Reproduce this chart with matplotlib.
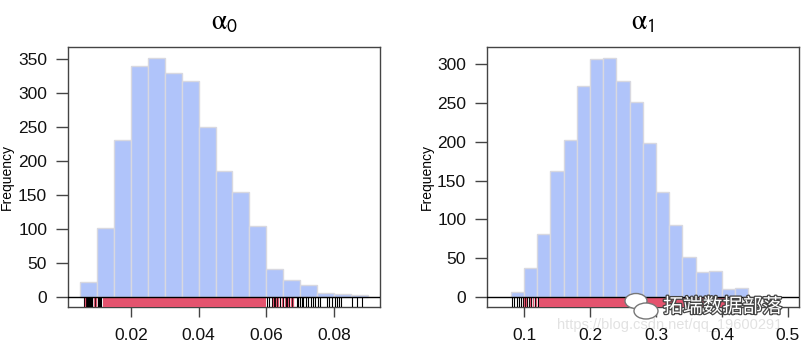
import numpy as np
import matplotlib
matplotlib.use("Agg")
import matplotlib.pyplot as plt
import matplotlib.patheffects as pe
from matplotlib.patches import Ellipse

plt.rcParams['font.family'] = ['Liberation Sans', 'DejaVu Sans']
plt.rcParams['mathtext.fontset'] = 'stix'

# ---- data ----
# alpha_0 histogram: bins of 0.005 starting at 0.005
a0_bin_start = 0.005
a0_bin_width = 0.005
a0_counts = [22, 102, 231, 340, 351, 329, 317, 250, 185, 155, 105, 41, 25, 17, 6, 4, 3]

# alpha_1 histogram: bins of 0.02 starting at 0.08
a1_bin_start = 0.08
a1_bin_width = 0.02
a1_counts = [6, 37, 81, 163, 202, 272, 307, 308, 278, 251, 199, 136, 93, 52, 32, 34, 10, 12]

# rug marks (black = individual draws in the sparse parts, red band = dense part)
a0_rug_black = [0.0061, 0.0064, 0.0067, 0.0069, 0.0072, 0.0076, 0.0079, 0.0083,
                0.0086, 0.0090, 0.0094, 0.0097, 0.0101, 0.0104, 0.0108, 0.0112,
                0.0603, 0.0609, 0.0616, 0.0619, 0.0623, 0.0625, 0.0632, 0.0640,
                0.0650, 0.0658, 0.0660, 0.0668, 0.0675, 0.0690, 0.0694, 0.0699,
                0.0704, 0.0709, 0.0717, 0.0724, 0.0731, 0.0737, 0.0744, 0.0753,
                0.0760, 0.0778, 0.0786, 0.0793, 0.0803, 0.0808, 0.0815, 0.0822,
                0.0852, 0.0869, 0.0882]
a0_rug_red = [0.0063, 0.0092, 0.0098, 0.0621, 0.0629, 0.0635, 0.0645, 0.0655,
              0.0665, 0.0672, 0.0680]
a0_red_band = (0.0116, 0.0598)

a1_rug_black = [0.0814, 0.0853, 0.0898, 0.0929, 0.0955, 0.0980, 0.1015, 0.1041,
                0.1076, 0.1106, 0.1141, 0.1167, 0.1208,
                0.398, 0.402, 0.406, 0.410, 0.417, 0.425, 0.437]
a1_rug_red = [0.100, 0.103, 0.109, 0.113, 0.118]
a1_red_band = (0.123, 0.404)

bar_color = '#b0c4fa'
red = '#e4536e'
spine_col = '#444444'

fig = plt.figure(figsize=(8.08, 3.43), dpi=100)
W, H = 808, 343


def px_rect(x0, x1, ytop, ybot):
    return [x0 / W, 1 - ybot / H, (x1 - x0) / W, (ybot - ytop) / H]


panels = [
    dict(rect=px_rect(68, 380, 47, 307), start=a0_bin_start, bw=a0_bin_width,
         counts=a0_counts, xlim=(0.00138, 0.0936), ylim=(-14.7, 367.6),
         xticks=[0.02, 0.04, 0.06, 0.08], yticks=range(0, 351, 50),
         black=a0_rug_black, red=a0_rug_red, band=a0_red_band,
         title=r'$\mathrm{\alpha}_{\mathsf{0}}$', labx=-0.173),
    dict(rect=px_rect(487, 799, 47, 307), start=a1_bin_start, bw=a1_bin_width,
         counts=a1_counts, xlim=(0.0439, 0.5167), ylim=(-12.9, 322.3),
         xticks=[0.1, 0.2, 0.3, 0.4, 0.5], yticks=range(0, 301, 50),
         black=a1_rug_black, red=a1_rug_red, band=a1_red_band,
         title=r'$\mathrm{\alpha}_{\mathsf{1}}$', labx=-0.170),
]

for p in panels:
    ax = fig.add_axes(p['rect'])
    edges = p['start'] + p['bw'] * np.arange(len(p['counts']))
    ax.bar(edges, p['counts'], width=p['bw'], align='edge', color=bar_color,
           edgecolor='#d8d8e0', linewidth=1.0, zorder=2)
    ax.set_xlim(*p['xlim'])
    ax.set_ylim(*p['ylim'])
    ylo = p['ylim'][0]
    # rug below the zero line
    ax.vlines(p['black'], ylo, 0, color='black', linewidth=0.8, zorder=3)
    ax.fill_between(list(p['band']), ylo, 0, color=red, linewidth=0, zorder=4)
    ax.vlines(p['red'], ylo, 0, color=red, linewidth=0.9, zorder=4)
    ax.axhline(0, color='black', linewidth=1.0, zorder=5)
    for s in ax.spines.values():
        s.set_color(spine_col)
        s.set_linewidth(1.0)
    ax.set_xticks(p['xticks'])
    ax.set_xticklabels([('%g' % v) for v in p['xticks']])
    ax.set_yticks(list(p['yticks']))
    ax.tick_params(axis='both', labelsize=12.5, length=7, width=1.0,
                   color=spine_col, labelcolor='#111111')
    ax.tick_params(axis='x', pad=8)
    ax.tick_params(axis='y', pad=6, length=9)
    ax.set_ylabel('Frequency', fontsize=10)
    ax.yaxis.set_label_coords(p['labx'], 0.5)
    ax.set_title(p['title'], fontsize=20, pad=13)

# watermark
fig.text(557 / W, 1 - 325 / H, 'https://blog.csdn.net/qq_19600291', fontsize=10.5,
         color='#e2e2e2', ha='left', va='center', zorder=-1)
fig.text(663 / W, 1 - 307 / H, '拓端数据部落', fontsize=14.3,
         family=['Noto Sans CJK SC', 'DejaVu Sans'], color='white',
         ha='left', va='center', zorder=6,
         path_effects=[pe.withStroke(linewidth=1.8, foreground='#444444')])
for cx, cy, w, h in [(636, 301, 22, 15), (646, 311, 24, 16)]:
    fig.add_artist(Ellipse((cx / W, 1 - cy / H), w / W, h / H, facecolor='white',
                           edgecolor='#777777', linewidth=1.0, zorder=6,
                           transform=fig.transFigure))

fig.savefig('out.png', dpi=100)
